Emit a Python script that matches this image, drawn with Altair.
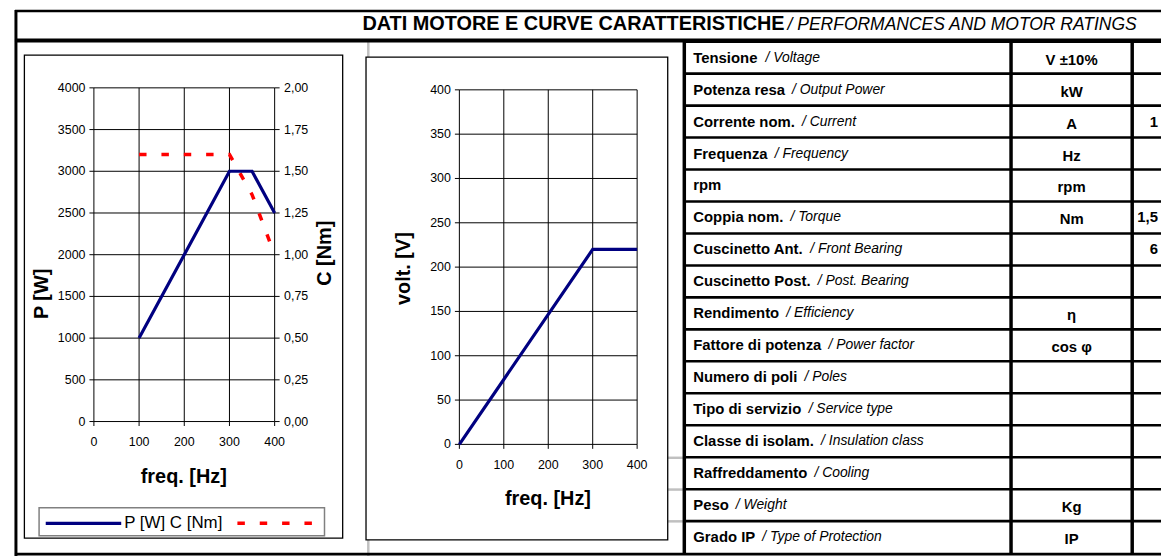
import altair as alt
import pandas as pd

# ---------------- data ----------------
pc_freq = [100, 300, 350, 400]
pc_power = [1000, 3000, 3000, 2500]
pc_torque = [1.6, 1.6, 1.36, 1.0]
vf_freq = [0, 300, 400]
vf_volt = [0, 220, 220]
series_names = ["P [W]", "C [Nm]"]

freq_ticks = [0, 100, 200, 300, 400]
freq_labels = ["0", "100", "200", "300", "400"]
power_ticks = [0, 500, 1000, 1500, 2000, 2500, 3000, 3500, 4000]
power_labels = ["0", "500", "1000", "1500", "2000", "2500", "3000", "3500", "4000"]
torque_ticks = [0, 0.25, 0.5, 0.75, 1.0, 1.25, 1.5, 1.75, 2.0]
torque_labels = ["0,00", "0,25", "0,50", "0,75", "1,00", "1,25", "1,50", "1,75", "2,00"]
volt_ticks = [0, 50, 100, 150, 200, 250, 300, 350, 400]
volt_labels = ["0", "50", "100", "150", "200", "250", "300", "350", "400"]

title_it = "DATI MOTORE E CURVE CARATTERISTICHE"
title_en = "/ PERFORMANCES AND MOTOR RATINGS"
x_title = "freq. [Hz]"
p_title = "P [W]"
c_title = "C [Nm]"
v_title = "volt. [V]"

row_it = ["Tensione", "Potenza resa", "Corrente nom.", "Frequenza", "rpm",
          "Coppia nom.", "Cuscinetto Ant.", "Cuscinetto Post.", "Rendimento",
          "Fattore di potenza", "Numero di poli", "Tipo di servizio",
          "Classe di isolam.", "Raffreddamento", "Peso", "Grado IP"]
row_en = ["/ Voltage", "/ Output Power", "/ Current", "/ Frequency", "",
          "/ Torque", "/ Front Bearing", "/ Post. Bearing", "/ Efficiency",
          "/ Power factor", "/ Poles", "/ Service type", "/ Insulation class",
          "/ Cooling", "/ Weight", "/ Type of Protection"]
row_unit = ["V ±10%", "kW", "A", "Hz", "rpm", "Nm", "", "", "η", "cos  φ",
            "", "", "", "", "Kg", "IP"]
row_value = ["", "", "1", "", "", "1,5", "6", "", "", "", "", "", "", "", "", ""]

# ---------------- layout helpers ----------------
FONT = "Liberation Sans"
O = 8.0


def c(v):
    return v - O


BW = {' ': 278, '.': 278, '/': 278, 'A': 722, 'B': 722, 'C': 722, 'D': 722, 'E': 667,
      'F': 611, 'G': 778, 'H': 722, 'I': 278, 'J': 556, 'K': 722, 'L': 611, 'M': 833,
      'N': 722, 'O': 778, 'P': 667, 'Q': 778, 'R': 722, 'S': 667, 'T': 611, 'U': 722,
      'V': 667, 'W': 944, 'X': 667, 'Y': 667, 'Z': 611, 'a': 556, 'b': 611, 'c': 556,
      'd': 611, 'e': 556, 'f': 333, 'g': 611, 'h': 611, 'i': 278, 'j': 278, 'k': 556,
      'l': 278, 'm': 889, 'n': 611, 'o': 611, 'p': 611, 'q': 611, 'r': 389, 's': 556,
      't': 333, 'u': 611, 'v': 556, 'w': 778, 'x': 556, 'y': 556, 'z': 500}


def bold_width(s, size):
    return sum(BW.get(ch, 556) for ch in s) * size / 1000.0


one = pd.DataFrame({"d": [0]})


def hline(x1, x2, y, color="black", w=1.0):
    return alt.Chart(one).mark_rule(color=color, strokeWidth=w).encode(
        x=alt.value(x1), x2=alt.value(x2), y=alt.value(y))


def vline(x, y1, y2, color="black", w=1.0):
    return alt.Chart(one).mark_rule(color=color, strokeWidth=w).encode(
        x=alt.value(x), y=alt.value(y1), y2=alt.value(y2))


def box(x1, y1, x2, y2, stroke="black", w=1.0, fill="white"):
    return alt.Chart(one).mark_rect(stroke=stroke, strokeWidth=w, fill=fill).encode(
        x=alt.value(x1), x2=alt.value(x2), y=alt.value(y1), y2=alt.value(y2))


def label(x, y, text, size, weight="normal", style="normal", align="center",
          angle=0, color="black", baseline="alphabetic"):
    return alt.Chart(one).mark_text(text=text, fontSize=size, fontWeight=weight,
                                    fontStyle=style, align=align, angle=angle,
                                    color=color, font=FONT, baseline=baseline).encode(
        x=alt.value(x), y=alt.value(y))


def ticks_df(t, lab):
    return pd.DataFrame({"t": t, "lab": lab})


# plot areas (chart coordinates)
L1, R1, T1, B1 = c(94.5), c(276.5), c(86.5), c(422.5)
L2, R2, T2, B2 = c(462.5), c(641.5), c(88.5), c(445.5)

sx1 = alt.Scale(domain=[0, 400], range=[L1, R1], nice=False, zero=False)
sp = alt.Scale(domain=[0, 4000], range=[B1, T1], nice=False, zero=False)
sc = alt.Scale(domain=[0, 2], range=[B1, T1], nice=False, zero=False)
sx2 = alt.Scale(domain=[0, 400], range=[L2, R2], nice=False, zero=False)
sv = alt.Scale(domain=[0, 400], range=[B2, T2], nice=False, zero=False)


def vgrid(df, xs, y1, y2, w=1.0):
    return alt.Chart(df).mark_rule(color="black", strokeWidth=w).encode(
        x=alt.X("t:Q", scale=xs, axis=None), y=alt.value(y1), y2=alt.value(y2))


def hgrid(df, ys, x1, x2, w=1.0):
    return alt.Chart(df).mark_rule(color="black", strokeWidth=w).encode(
        y=alt.Y("t:Q", scale=ys, axis=None), x=alt.value(x1), x2=alt.value(x2))


def ylabels(df, ys, x, align):
    return alt.Chart(df).mark_text(align=align, baseline="middle", fontSize=12.5,
                                   font=FONT, color="black").encode(
        y=alt.Y("t:Q", scale=ys, axis=None), x=alt.value(x), text="lab:N")


def xlabels(df, xs, y):
    return alt.Chart(df).mark_text(align="center", baseline="middle", fontSize=12.5,
                                   font=FONT, color="black").encode(
        x=alt.X("t:Q", scale=xs, axis=None), y=alt.value(y), text="lab:N")


fdf = ticks_df(freq_ticks, freq_labels)
pdf_ = ticks_df(power_ticks, power_labels)
cdf = ticks_df(torque_ticks, torque_labels)
vdf = ticks_df(volt_ticks, volt_labels)

layers = []

# spreadsheet gridlines (light grey) behind the objects
layers.append(vline(c(370.8), c(40), c(558), color="#c0c0c0", w=2.5))
for yy in [459, 491, 523]:
    layers.append(hline(c(672), c(688), c(yy), color="#c0c0c0", w=2.5))

# chart boxes
layers.append(box(c(24.5), c(53.5), c(345), c(540), w=1.3))
layers.append(box(c(368.5), c(55.5), c(672.3), c(541.7), w=1.3))

# ---- left chart (P / C vs freq) ----
layers += [
    vgrid(fdf, sx1, T1, B1),
    hgrid(pdf_, sp, L1, R1),
    hgrid(pdf_, sp, L1 - 4.5, L1),
    hgrid(cdf, sc, R1, R1 + 5),
    vgrid(fdf, sx1, B1, B1 + 4.5),
    ylabels(pdf_, sp, c(86), "right"),
    ylabels(cdf, sc, c(286), "left"),
    xlabels(fdf, sx1, c(443.5)),
]
pc_df = pd.DataFrame({"f": pc_freq, "p": pc_power, "c": pc_torque})
layers.append(alt.Chart(pc_df).mark_line(color="#ff0000", strokeWidth=3.5,
                                         strokeDash=[7.5, 15], strokeCap="butt").encode(
    x=alt.X("f:Q", scale=sx1, axis=None), y=alt.Y("c:Q", scale=sc, axis=None)))
layers.append(alt.Chart(pc_df).mark_line(color="#000080", strokeWidth=3.2).encode(
    x=alt.X("f:Q", scale=sx1, axis=None), y=alt.Y("p:Q", scale=sp, axis=None)))
layers += [
    label(c(42), c(294), p_title, 20, weight="bold", angle=270, baseline="middle"),
    label(c(327), c(253), c_title, 20, weight="bold", angle=270, baseline="middle"),
    label(c(185), c(478), x_title, 20, weight="bold", baseline="middle"),
]

# legend
leg_text = pd.DataFrame({"s": [" ".join(series_names)]})
layers += [
    box(c(39.3), c(509.3), c(326.7), c(537.5), stroke="#808080", w=1.5),
    hline(c(46), c(122), c(525), color="#000080", w=3.2),
    alt.Chart(leg_text).mark_text(align="left", baseline="middle", fontSize=17,
                                  font=FONT, color="black").encode(
        x=alt.value(c(125)), y=alt.value(c(525)), text="s:N"),
    alt.Chart(one).mark_rule(color="#ff0000", strokeWidth=3.5, strokeDash=[7.5, 15],
                             strokeCap="butt").encode(
        x=alt.value(c(239)), x2=alt.value(c(314)), y=alt.value(c(525))),
]

# ---- middle chart (volt vs freq) ----
layers += [
    vgrid(fdf, sx2, T2, B2),
    hgrid(vdf, sv, L2, R2),
    hgrid(vdf, sv, L2 - 4.5, L2),
    vgrid(fdf, sx2, B2, B2 + 4.5),
    ylabels(vdf, sv, c(454), "right"),
    xlabels(fdf, sx2, c(466.7)),
]
vf_df = pd.DataFrame({"f": vf_freq, "v": vf_volt})
layers.append(alt.Chart(vf_df).mark_line(color="#000080", strokeWidth=3.2).encode(
    x=alt.X("f:Q", scale=sx2, axis=None), y=alt.Y("v:Q", scale=sv, axis=None)))
layers += [
    label(c(406.7), c(268.5), v_title, 20, weight="bold", angle=270, baseline="middle"),
    label(c(551.7), c(500.5), x_title, 20, weight="bold", baseline="middle"),
]

# ---- table ----
tdf = pd.DataFrame({"it": row_it, "en": row_en, "unit": row_unit, "val": row_value})
tdf["ix"] = [c(698) + bold_width(s, 15) + 7 for s in row_it]
yrow = alt.Scale(type="band", domain=row_it, range=[c(40), c(555)],
                 paddingInner=0, paddingOuter=0)
ymid = alt.Y("it:N", scale=yrow, axis=None, bandPosition=0.5)
layers += [
    alt.Chart(tdf).mark_rule(color="black", strokeWidth=2.6).encode(
        y=alt.Y("it:N", scale=yrow, axis=None, bandPosition=0),
        x=alt.value(c(688)), x2=alt.value(c(1169))),
    vline(c(689), c(40), c(556), w=3.5),
    vline(c(1018), c(40), c(556), w=3.5),
    vline(c(1140), c(40), c(556), w=3.5),
    alt.Chart(tdf).mark_text(align="left", baseline="middle", fontSize=15,
                             fontWeight="bold", font=FONT, color="black").encode(
        x=alt.value(c(698)), y=ymid, text="it:N"),
    alt.Chart(tdf).mark_text(align="left", baseline="middle", fontSize=14,
                             fontStyle="italic", font=FONT, color="black").encode(
        x=alt.X("ix:Q", scale=None, axis=None), y=ymid, text="en:N"),
    alt.Chart(tdf).mark_text(align="center", baseline="middle", fontSize=15, dy=2,
                             fontWeight="bold", font=FONT, color="black").encode(
        x=alt.value(c(1079)), y=ymid, text="unit:N"),
    alt.Chart(tdf).mark_text(align="right", baseline="middle", fontSize=15,
                             fontWeight="bold", font=FONT, color="black").encode(
        x=alt.value(c(1166)), y=ymid, text="val:N"),
]

# ---- header and outer frame ----
layers += [
    label(c(790), c(28), title_it, 20, weight="bold", align="right"),
    label(c(793), c(28), title_en, 17.6, style="italic", align="left"),
    hline(c(15), c(1169), c(9), w=2.5),
    hline(c(15), c(1169), c(38.8), w=4),
    hline(c(15), c(1169), c(556), w=3),
    vline(c(16), c(8), c(558), w=3),
]

chart = alt.layer(*layers).resolve_scale(x="independent", y="independent").properties(
    width=1161, height=550, padding=0,
    autosize=alt.AutoSizeParams(type="none"), background="white"
).configure_view(stroke=None)

chart.save("out.html", embed_options={"renderer": "svg", "actions": False})
